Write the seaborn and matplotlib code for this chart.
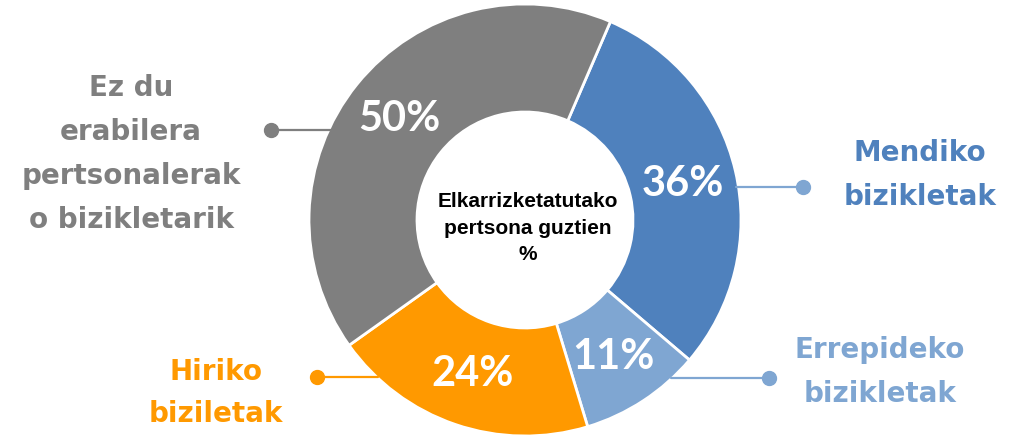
import numpy as np
import matplotlib
matplotlib.use("Agg")
import matplotlib.pyplot as plt
import seaborn as sns

# data (clockwise from the top right)
categories = ["Mendiko\nbizikletak", "Errepideko\nbizikletak", "Hiriko\nbiziletak",
              "Ez du\nerabilera\npertsonalerak\no bizikletarik"]
values = [36, 11, 24, 50]
colors = ["#4F81BD", "#7FA6D2", "#FF9900", "#7F7F7F"]
text_colors = ["#4F81BD", "#7FA6D2", "#FF9900", "#7F7F7F"]
line_colors = ["#7FA6D2", "#7FA6D2", "#FF9900", "#7F7F7F"]
center_text = "Elkarrizketatutako\npertsona guztien\n%"

sns.set_theme(style="white")

fig = plt.figure(figsize=(10.18, 4.39), dpi=100)
ax = fig.add_axes([0, 0, 1, 1])

total = sum(values)
wedges, _, autotexts = ax.pie(
    values, colors=colors, startangle=66.7, counterclock=False,
    radius=1.0, pctdistance=0.75,
    autopct=lambda p: f"{round(p * total / 100)}%",
    wedgeprops=dict(width=0.5, edgecolor="white", linewidth=2),
)
for t in autotexts:
    t.set_color("white")
    t.set_fontfamily("Lato")
    t.set_fontweight("bold")
    t.set_fontsize(30)

ax.set_xlim(-2.4306, 2.2824)
ax.set_ylim(-1.0093, 1.0231)
ax.set_aspect("auto")
ax.axis("off")

# leader lines: dot position, the line runs to the donut edge
dots = [(1.287, 0.153), (1.130, -0.731), (-0.963, -0.727), (-1.176, 0.417)]
for (dx, dy), lc in zip(dots, line_colors):
    edge = np.sign(dx) * np.sqrt(1 - dy ** 2) * 0.99
    ax.plot([edge, dx], [dy, dy], color=lc, lw=1.6, zorder=1)
    ax.plot(dx, dy, "o", color=lc, markersize=10, zorder=2)

# category labels (y = baseline of the last line)
label_pos = [(1.829, 0.074, 1.72), (1.644, -0.838, 1.72),
             (-1.431, -0.931, 1.64), (-1.824, -0.032, 1.72)]
for cat, (lx, ly, ls), tc in zip(categories, label_pos, text_colors):
    ax.text(lx, ly, cat, color=tc, fontsize=20, fontweight="bold",
            fontfamily="DejaVu Sans", ha="center", va="baseline",
            multialignment="center", linespacing=ls)

ax.text(0.014, -0.1806, center_text, ha="center", va="baseline",
        fontsize=15, fontweight="bold", fontfamily="Liberation Sans",
        color="black", linespacing=1.5)

fig.savefig("out.png", dpi=100, facecolor="white")
